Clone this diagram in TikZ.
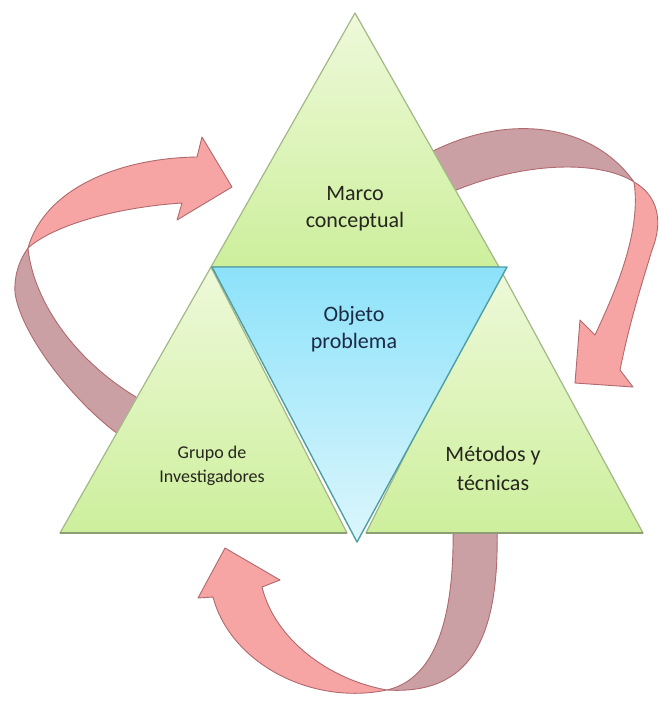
\documentclass[tikz,border=0pt]{standalone}
\usepackage{fontspec}
\setmainfont{Carlito}
\definecolor{gtop}{HTML}{EEF9DA}
\definecolor{gbot}{HTML}{CDEF9C}
\definecolor{gedge}{HTML}{A3B888}
\definecolor{gbase}{HTML}{8E9E74}
\definecolor{btop}{HTML}{8CE2FA}
\definecolor{bbot}{HTML}{DDF6FC}
\definecolor{bedge}{HTML}{4E9EA2}
\definecolor{rlight}{HTML}{F6A4A4}
\definecolor{rdark}{HTML}{CBA0A5}
\definecolor{redge}{HTML}{B06A6E}
\definecolor{txt}{HTML}{26261E}
\definecolor{txtb}{HTML}{1C2B45}
\begin{document}
\begin{tikzpicture}[x=1pt, y=-1pt,
  greentri/.style={top color=gtop, bottom color=gbot, draw=gedge, line width=1.2pt, line join=round},
  midtri/.style={top color=btop, bottom color=bbot, draw=bedge, line width=1.4pt, line join=round},
  baseedge/.style={draw=gbase, line width=1.6pt},
  bandfront/.style={fill=rlight, draw=redge, line width=0.9pt, line join=round},
  bandback/.style={fill=rdark, draw=redge, line width=0.9pt, line join=round},
  tlabel/.style={align=center, text=txt, font=\fontsize{22}{27}\selectfont}]
\fill[white] (0,0) rectangle (661,702);
\useasboundingbox (0,0) rectangle (661,702);

\coordinate (apex) at (355,13);
\coordinate (bl) at (60,533);
\coordinate (br) at (643,533);
\coordinate (ml) at (211,267);
\coordinate (mr) at (499,267);
\coordinate (lb) at (347,533);
\coordinate (rb) at (366,533);
\coordinate (ol) at (212,267);
\coordinate (or) at (507,267);
\coordinate (ob) at (357,542);

\path[bandback] (28,248) .. controls (18,262) and (14,278) .. (15,293) .. controls (22,340) and (85,415) .. (130,442) -- (150,405) .. controls (75,365) and (33,300) .. (28,248) -- cycle;
\path[bandfront] (28,248) .. controls (45,188) and (120,158) .. (197,157) -- (202,137) -- (232,187) -- (177,220) -- (182,203) .. controls (120,207) and (55,224) .. (28,248) -- cycle;

\path[bandback] (420,158) .. controls (500,112) and (590,120) .. (634,182) .. controls (600,160) and (520,160) .. (440,197) -- cycle;
\path[bandfront] (634,182) .. controls (657,195) and (664,220) .. (652,250) .. controls (643,280) and (630,320) .. (620,370) -- (633,387) -- (575,383) -- (580,320) -- (595,335) .. controls (612,298) and (642,235) .. (634,182) -- cycle;

\path[bandback] (497,525) .. controls (500,640) and (470,695) .. (387,690) .. controls (430,680) and (455,630) .. (453,525) -- cycle;
\path[bandfront] (387,690) .. controls (310,706) and (230,662) .. (213,597) -- (198,598) -- (225,548) -- (280,580) -- (262,587) .. controls (275,640) and (330,680) .. (387,690) -- cycle;

\shade[greentri] (apex) -- (mr) -- (ml) -- cycle;
\shade[greentri] (ml) -- (lb) -- (bl) -- cycle;
\shade[greentri] (mr) -- (br) -- (rb) -- cycle;
\draw[baseedge] (bl) -- (lb);
\draw[baseedge] (rb) -- (br);
\shade[midtri] (ol) -- (or) -- (ob) -- cycle;

\node[tlabel] (marco) at (355,209) {Marco\\conceptual};
\node[tlabel, text=txtb] (objeto) at (354,329) {Objeto\\problema};
\node[tlabel, font=\fontsize{18}{24}\selectfont] (grupo) at (212,466) {Grupo de\\Investigadores};
\node[tlabel, font=\fontsize{22}{29}\selectfont] (metodos) at (493,468) {Métodos y\\técnicas};
\end{tikzpicture}
\end{document}
